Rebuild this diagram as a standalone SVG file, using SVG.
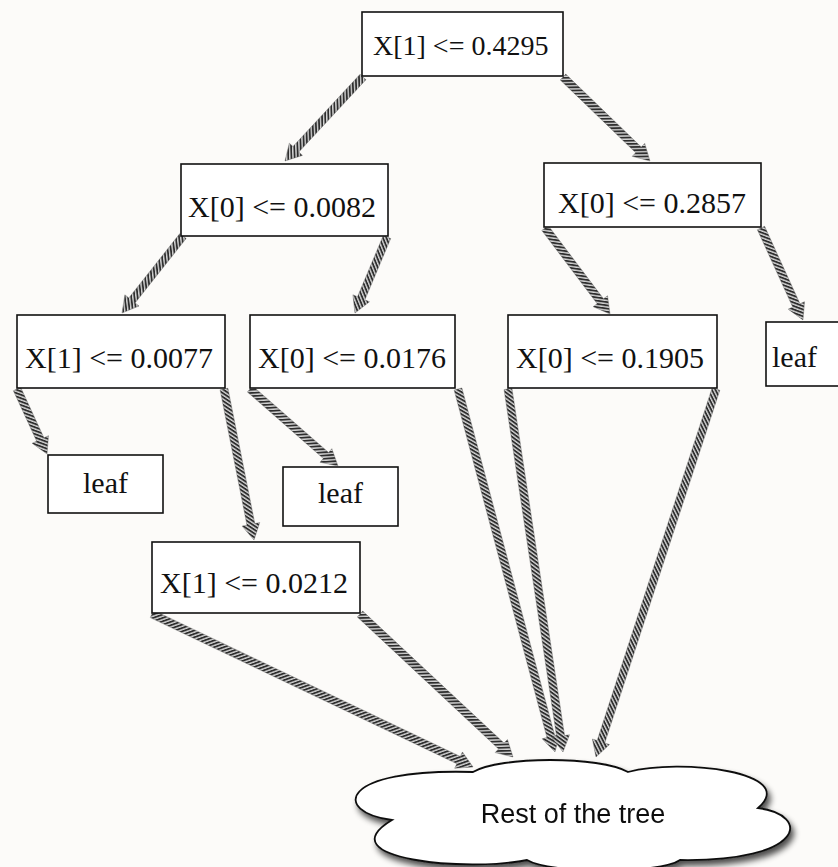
<svg xmlns="http://www.w3.org/2000/svg" width="838" height="867" viewBox="0 0 838 867">
<defs>
<style>
.box{fill:#ffffff;stroke:#111;stroke-width:1.6}
.lbl{font-family:"Liberation Serif","Times New Roman",serif;font-size:30px;fill:#111}
.root{font-size:28px}
.arr{fill:url(#hatch);stroke:#666;stroke-width:0.4}
.cloud{fill:#ffffff;stroke:#111;stroke-width:1.8}
.ctext{font-family:"Liberation Sans",Arial,sans-serif;font-size:27px;fill:#111}
</style>
<pattern id="hatch" width="3.2" height="3.2" patternUnits="userSpaceOnUse" patternTransform="rotate(45)">
<rect width="3.2" height="3.2" fill="#d4d4d4"/>
<rect width="1.8" height="3.2" fill="#2e2e2e"/>
</pattern>
<filter id="shadow" x="-10%" y="-20%" width="125%" height="160%">
<feGaussianBlur in="SourceAlpha" stdDeviation="3"/>
<feOffset dx="3" dy="5" result="b"/>
<feComponentTransfer><feFuncA type="linear" slope="0.7"/></feComponentTransfer>
<feMerge><feMergeNode/><feMergeNode in="SourceGraphic"/></feMerge>
</filter>
</defs>
<rect width="838" height="867" fill="#fcfbf9"/>

<g id="connectors">
<g transform="translate(363,77) rotate(132.88)"><polygon class="arr" points="0,-4 98.6,-4 98.6,-9 114.6,0 98.6,9 98.6,4 0,4"/></g>
<g transform="translate(563,77) rotate(43.99)"><polygon class="arr" points="0,-4 104.9,-4 104.9,-9 120.9,0 104.9,9 104.9,4 0,4"/></g>
<g transform="translate(183,236) rotate(128.39)"><polygon class="arr" points="0,-4 82.2,-4 82.2,-9 98.2,0 82.2,9 82.2,4 0,4"/></g>
<g transform="translate(387,237) rotate(112.83)"><polygon class="arr" points="0,-4 66.5,-4 66.5,-9 82.5,0 66.5,9 66.5,4 0,4"/></g>
<g transform="translate(545,228) rotate(52.92)"><polygon class="arr" points="0,-4 91.8,-4 91.8,-9 107.8,0 91.8,9 91.8,4 0,4"/></g>
<g transform="translate(761,228) rotate(65.46)"><polygon class="arr" points="0,-4 85.1,-4 85.1,-9 101.1,0 85.1,9 85.1,4 0,4"/></g>
<g transform="translate(17,389) rotate(65.22)"><polygon class="arr" points="0,-4 55.6,-4 55.6,-9 71.6,0 55.6,9 55.6,4 0,4"/></g>
<g transform="translate(224,389) rotate(78.76)"><polygon class="arr" points="0,-4 138,-4 138,-9 154,0 138,9 138,4 0,4"/></g>
<g transform="translate(250,389) rotate(41.19)"><polygon class="arr" points="0,-4 100.9,-4 100.9,-9 116.9,0 100.9,9 100.9,4 0,4"/></g>
<g transform="translate(458,389) rotate(75.04)"><polygon class="arr" points="0,-4 359.7,-4 359.7,-9 375.7,0 359.7,9 359.7,4 0,4"/></g>
<g transform="translate(508,389) rotate(81.38)"><polygon class="arr" points="0,-4 351.1,-4 351.1,-9 367.1,0 351.1,9 351.1,4 0,4"/></g>
<g transform="translate(716,389) rotate(108.06)"><polygon class="arr" points="0,-4 371.1,-4 371.1,-9 387.1,0 371.1,9 371.1,4 0,4"/></g>
<g transform="translate(152,614) rotate(25.48)"><polygon class="arr" points="0,-4 339.6,-4 339.6,-9 355.6,0 339.6,9 339.6,4 0,4"/></g>
<g transform="translate(360,614) rotate(43.06)"><polygon class="arr" points="0,-4 193.4,-4 193.4,-9 209.4,0 193.4,9 193.4,4 0,4"/></g>
</g>

<g id="n_root"><rect class="box" x="362" y="12" width="201" height="64"/><text class="lbl root" x="373" y="55">X[1] &lt;= 0.4295</text></g>
<g id="n_0082"><rect class="box" x="181" y="164" width="207" height="72"/><text class="lbl" x="188" y="217">X[0] &lt;= 0.0082</text></g>
<g id="n_2857"><rect class="box" x="544" y="163" width="217" height="64"/><text class="lbl" x="558" y="213">X[0] &lt;= 0.2857</text></g>
<g id="n_0077"><rect class="box" x="17" y="315" width="208" height="73"/><text class="lbl" x="25" y="368">X[1] &lt;= 0.0077</text></g>
<g id="n_0176"><rect class="box" x="250" y="315" width="205" height="73"/><text class="lbl" x="258" y="368">X[0] &lt;= 0.0176</text></g>
<g id="n_1905"><rect class="box" x="508" y="315" width="209" height="73"/><text class="lbl" x="516" y="368">X[0] &lt;= 0.1905</text></g>
<g id="n_leaf_r"><rect class="box" x="766" y="322" width="80" height="64"/><text class="lbl" x="772" y="367">leaf</text></g>
<g id="n_leaf_l"><rect class="box" x="48" y="455" width="115" height="58"/><text class="lbl" x="83" y="493">leaf</text></g>
<g id="n_leaf_m"><rect class="box" x="283" y="467" width="115" height="59"/><text class="lbl" x="318" y="503">leaf</text></g>
<g id="n_0212"><rect class="box" x="152" y="542" width="208" height="71"/><text class="lbl" x="160" y="593">X[1] &lt;= 0.0212</text></g>

<g id="n_rest" filter="url(#shadow)">
<path class="cloud" d="M473,772 C500,756 600,756 628,772 C680,758 800,772 758,808 C812,815 805,862 680,860 C660,874 550,874 527,860 C470,872 325,860 392,820 C332,812 338,768 473,772 Z"/>
<text class="ctext" x="573" y="823" text-anchor="middle">Rest of the tree</text>
</g>
</svg>
